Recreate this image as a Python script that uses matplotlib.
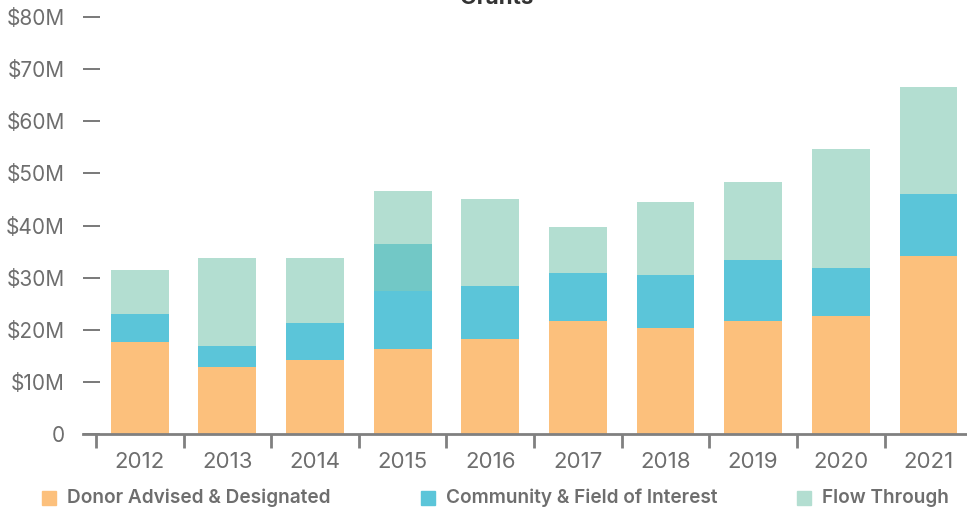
import numpy as np
import matplotlib
matplotlib.use("Agg")
import matplotlib.pyplot as plt

years = ["2012", "2013", "2014", "2015", "2016", "2017", "2018", "2019", "2020", "2021"]
# values in $M
donor = [17.6, 12.9, 14.2, 16.3, 18.2, 21.7, 20.3, 21.7, 22.6, 34.2]
community = [5.4, 4.0, 7.1, 11.1, 10.2, 9.2, 10.2, 11.7, 9.3, 11.9]
flow = [8.5, 16.9, 12.5, 19.2, 16.7, 8.8, 14.0, 15.0, 22.8, 20.5]
# darker overlap band seen on the 2015 bar
overlap_year = "2015"
overlap_height = 9.1

c_donor = "#fcc07c"
c_comm = "#5bc5d9"
c_flow = "#b3ded1"
c_overlap = "#72c8c6"
grey = "#6e6e6e"

plt.rcParams["font.family"] = ["Inter", "DejaVu Sans"]

fig = plt.figure(figsize=(9.67, 5.12), dpi=100)
ax = fig.add_axes([83 / 967, 1 - 434 / 512, 1 - 83 / 967, (434 - 17) / 512])

x = np.arange(len(years))
w = 0.66
donor = np.array(donor)
community = np.array(community)
flow = np.array(flow)

ax.bar(x, donor, w, color=c_donor, label="Donor Advised & Designated", zorder=2)
ax.bar(x, community, w, bottom=donor, color=c_comm,
       label="Community & Field of Interest", zorder=2)
ax.bar(x, flow, w, bottom=donor + community, color=c_flow,
       label="Flow Through", zorder=2)

i = years.index(overlap_year)
ax.bar(x[i], overlap_height, w, bottom=donor[i] + community[i], color=c_overlap, zorder=2)

ax.set_xlim(-0.648, 9.44)
ax.set_ylim(0, 80)

ax.set_yticks(np.arange(0, 81, 10))
ax.set_yticklabels(["0"] + [f"${v}M" for v in range(10, 81, 10)])
ax.tick_params(axis="y", direction="in", length=12, width=1.3, color=grey,
               labelsize=15, labelcolor=grey, pad=13)

ax.set_xticks(x)
ax.set_xticklabels(years)
ax.set_xticks(np.arange(-0.5, 9.5, 1), minor=True)
ax.tick_params(axis="x", which="major", length=0, labelsize=16, labelcolor=grey, pad=13)
ax.tick_params(axis="x", which="minor", length=10, width=2, color="#808080")

for s in ["top", "right", "left"]:
    ax.spines[s].set_visible(False)
ax.spines["bottom"].set_color("#808080")
ax.spines["bottom"].set_linewidth(2)
ax.spines["bottom"].set_zorder(3)

fig.text(497 / 967, 1 - 4 / 512, "Grants", ha="center", va="baseline",
         fontsize=16, fontweight="bold", color="#333333")

# legend drawn as squares + text along the bottom
legend_items = [
    (42, c_donor, "Donor Advised & Designated"),
    (421, c_comm, "Community & Field of Interest"),
    (797, c_flow, "Flow Through"),
]
for px, col, lab in legend_items:
    fig.patches.append(plt.Rectangle((px / 967, 1 - 505 / 512), 14 / 967, 14 / 512,
                                     transform=fig.transFigure, color=col))
    fig.text((px + 25) / 967, 1 - 498 / 512, lab, ha="left", va="center",
             fontsize=13.7, fontweight="semibold", color=grey)

fig.savefig("out.png", dpi=100)
